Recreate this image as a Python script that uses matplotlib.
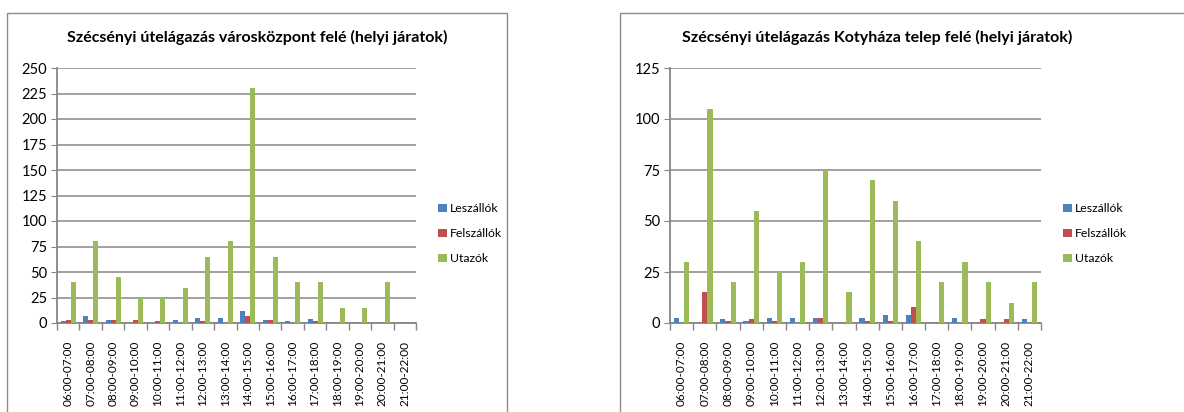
import matplotlib.pyplot as plt
import matplotlib.patches as patches
import numpy as np

plt.rcParams['font.family'] = ['Lato', 'DejaVu Sans']

# Data
hours = ["06:00-07:00", "07:00-08:00", "08:00-09:00", "09:00-10:00",
         "10:00-11:00", "11:00-12:00", "12:00-13:00", "13:00-14:00",
         "14:00-15:00", "15:00-16:00", "16:00-17:00", "17:00-18:00",
         "18:00-19:00", "19:00-20:00", "20:00-21:00", "21:00-22:00"]
series_names = ["Leszállók", "Felszállók", "Utazók"]

# Városközpont felé
left_le = [1.5, 7, 3, 0, 0, 3, 5, 5, 12, 3, 1.5, 4, 0, 0, 0, 0]
left_fel = [3, 3, 3, 3, 1.5, 0, 1.5, 0, 7, 3, 0, 1.5, 0, 0, 0, 0]
left_ut = [40, 80, 45, 25, 25, 34, 65, 80, 230, 65, 40, 40, 15, 15, 40, 0]

# Kotyháza telep felé
right_le = [2.5, 0, 2, 1, 2.5, 2.5, 2.5, 0, 2.5, 4, 4, 0, 2.5, 0, 0, 2]
right_fel = [0, 15, 1, 2, 1, 0, 2.5, 0, 1, 1, 8, 0, 0, 2, 2, 0]
right_ut = [30, 105, 20, 55, 25, 30, 75, 15, 70, 60, 40, 20, 30, 20, 10, 20]

colors = ["#4F81BD", "#C0504D", "#9BBB59"]
grid_col = "#868686"

W, H = 1184, 412
fig = plt.figure(figsize=(W / 100, H / 100), dpi=100)


def px(x0, y0, x1, y1):
    return [x0 / W, 1 - y1 / H, (x1 - x0) / W, (y1 - y0) / H]


def draw(rect, title, title_x, vals, ymax, legend_x):
    ax = fig.add_axes(px(*rect))
    x = np.arange(len(hours))
    w = 1 / 4.5
    for i, (v, c, name) in enumerate(zip(vals, colors, series_names)):
        ax.bar(x + (i - 1) * w, v, width=w, color=c, label=name, zorder=3)
    ax.set_xlim(-0.5, len(hours) - 0.5)
    ax.set_ylim(0, ymax)
    ax.set_yticks(np.arange(0, ymax + 1, 25))
    ax.yaxis.grid(True, color=grid_col, linewidth=1.1)
    ax.set_axisbelow(True)
    ax.set_xticks(x)
    ax.set_xticklabels(hours, rotation=90, fontsize=8.5)
    ax.set_xticks(np.arange(-0.5, len(hours)), minor=True)
    ax.tick_params(axis='x', which='major', length=0, pad=13)
    ax.tick_params(axis='x', which='minor', length=5, color=grid_col, width=1)
    ax.tick_params(axis='y', length=4, color=grid_col, labelsize=10.5, pad=3)
    for s in ["top", "right"]:
        ax.spines[s].set_visible(False)
    for s in ["left", "bottom"]:
        ax.spines[s].set_color(grid_col)
        ax.spines[s].set_linewidth(1.3)
    fig.text(title_x / W, 1 - 37 / H, title, ha='center', va='center',
             fontsize=11.5, fontweight='bold')
    ax.legend(loc='center left',
              bbox_to_anchor=((legend_x - rect[0]) / (rect[2] - rect[0]), 0.35),
              frameon=False, fontsize=8.8, handlelength=0.7, handleheight=0.7,
              handletextpad=0.3, labelspacing=1.15, borderaxespad=0,
              borderpad=0)
    return ax


# chart borders
fig.patches.append(patches.Rectangle((7 / W, -0.1), 500 / W, 1.1 - 13 / H,
                                     transform=fig.transFigure, fill=False,
                                     edgecolor="#8c8c8c", linewidth=1))
fig.patches.append(patches.Rectangle((620 / W, -0.1), 600 / W, 1.1 - 13 / H,
                                     transform=fig.transFigure, fill=False,
                                     edgecolor="#8c8c8c", linewidth=1))

draw((57, 68, 416, 323), "Szécsényi útelágazás városközpont felé (helyi járatok)",
     257, [left_le, left_fel, left_ut], 250, 438)
draw((670, 68, 1041, 323), "Szécsényi útelágazás Kotyháza telep felé (helyi járatok)",
     877, [right_le, right_fel, right_ut], 125, 1063)

fig.savefig("out.png", dpi=100)
